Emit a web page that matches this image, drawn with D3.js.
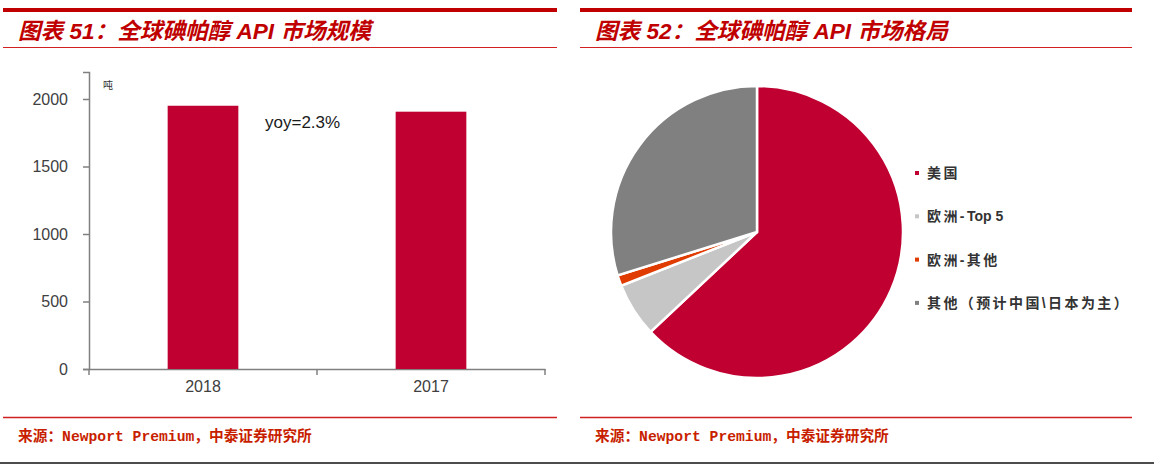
<!doctype html>
<html>
<head>
<meta charset="utf-8">
<title></title>
<style>
body{ margin:0; background:#fff; }
svg{ display:block; }
</style>
</head>
<body>
<svg></svg>
<script src="https://cdn.jsdelivr.net/npm/d3@7/dist/d3.min.js"></script>
<script>
   var years = ['2018', '2017'];
   var tons = [1950, 1906];
   var yTicks = [0, 500, 1000, 1500, 2000];
   var regions = ['美国', '欧洲-Top 5', '欧洲-其他', '其他（预计中国\\日本为主）'];
   var shares = [63, 6, 1.2, 29.8];
   var colors = ['#bf0030', '#c6c6c6', '#e03b00', '#808080'];

   var width = 1154, height = 464;
   var red = '#c00000';
   var svg = d3.select('svg').attr('width', width).attr('height', height);

   // 标题 + 分隔线
   function header(x0, x1, title) {
       svg.append('line').attr('x1', x0).attr('x2', x1).attr('y1', 10).attr('y2', 10)
          .attr('stroke', red).attr('stroke-width', 4);
       svg.append('text').attr('x', x0 + 15).attr('y', 39)
          .attr('fill', red).style('font-size', '22.6px').style('font-weight', 'bold')
          .style('font-style', 'italic')
          .style('font-family', '"Liberation Sans","Noto Sans CJK SC",sans-serif')
          .text(title);
       svg.append('line').attr('x1', x0).attr('x2', x1).attr('y1', 47.5).attr('y2', 47.5)
          .attr('stroke', '#d02020').attr('stroke-width', 1.2);
       svg.append('line').attr('x1', x0).attr('x2', x1).attr('y1', 417.5).attr('y2', 417.5)
          .attr('stroke', '#d02020').attr('stroke-width', 1.5);
       svg.append('text').attr('x', x0 + 15).attr('y', 441)
          .attr('fill', '#c81e00').style('font-size', '14.7px').style('font-weight', 'bold')
          .style('font-family', '"Liberation Mono","Noto Sans CJK SC",monospace')
          .text('来源：Newport Premium，中泰证券研究所');
   }
   header(3, 557, '图表 51：全球碘帕醇 API 市场规模');
   header(580, 1132, '图表 52：全球碘帕醇 API 市场格局');

   svg.append('line').attr('x1', 0).attr('x2', width).attr('y1', 463).attr('y2', 463)
      .attr('stroke', '#111').attr('stroke-width', 1.5);

   // 柱状图
   var x = d3.scaleBand().domain(years).range([89, 545]).paddingInner(0.69).paddingOuter(0.345);
   var y = d3.scaleLinear().domain([0, 2200]).range([369, 72]);

   var gx = svg.append('g').attr('transform', 'translate(0,369)')
       .call(d3.axisBottom(x).tickSize(0).tickPadding(12));
   gx.select('.domain').attr('stroke', '#808080').attr('stroke-width', 1.5);
   gx.selectAll('text').attr('fill', '#404040').style('font-size', '16px')
     .style('font-family', '"Liberation Sans",Arial,sans-serif');
   // 分类分隔刻度
   svg.append('g').selectAll('line').data([89, 89 + x.step(), 545]).enter().append('line')
      .attr('x1', function (d) { return d; }).attr('x2', function (d) { return d; })
      .attr('y1', 369).attr('y2', 375).attr('stroke', '#808080').attr('stroke-width', 1.5);

   var gy = svg.append('g').attr('transform', 'translate(89,0)')
       .call(d3.axisLeft(y).tickValues(yTicks).tickFormat(d3.format('d')).tickSize(6).tickPadding(15));
   gy.select('.domain').attr('stroke', '#808080').attr('stroke-width', 1.5);
   gy.selectAll('line').attr('stroke', '#808080').attr('stroke-width', 1.5);
   gy.selectAll('text').attr('fill', '#404040').style('font-size', '16px')
     .style('font-family', '"Liberation Sans",Arial,sans-serif');

   svg.append('g').selectAll('rect').data(tons).enter().append('rect')
      .attr('x', function (d, i) { return x(years[i]); })
      .attr('y', function (d) { return y(d); })
      .attr('width', x.bandwidth())
      .attr('height', function (d) { return y(0) - y(d); })
      .attr('fill', colors[0]);

   svg.append('text').attr('x', 103).attr('y', 89).attr('fill', '#333')
      .style('font-size', '10px').style('font-family', '"Noto Sans CJK SC",sans-serif').text('吨');
   svg.append('text').attr('x', 265).attr('y', 128).attr('fill', '#1a1a1a')
      .style('font-size', '17px').style('font-family', '"Liberation Sans",Arial,sans-serif')
      .text('yoy=2.3%');

   // 饼图
   var pie = d3.pie().sort(null).value(function (d) { return d; });
   var arc = d3.arc().innerRadius(0).outerRadius(146);
   svg.append('g').attr('transform', 'translate(757,232)')
      .selectAll('path').data(pie(shares)).enter().append('path')
      .attr('d', arc)
      .attr('fill', function (d, i) { return colors[i]; })
      .attr('stroke', '#fff').attr('stroke-width', 2.5);

   var lg = svg.append('g').selectAll('g').data(regions).enter().append('g')
      .attr('transform', function (d, i) { return 'translate(915,' + (173 + i * 43.3) + ')'; });
   lg.append('rect').attr('x', 0).attr('y', -2).attr('width', 4).attr('height', 4)
     .attr('fill', function (d, i) { return colors[i]; });
   // 中文字距宽，英文部分不加字距
   lg.append('text').attr('x', 12).attr('y', 5).attr('fill', '#333')
     .style('font-size', '14px').style('font-weight', 'bold')
     .style('font-family', '"Liberation Sans","Noto Sans CJK SC",sans-serif')
     .each(function (d) {
         var t = d3.select(this);
         d.split(/([A-Za-z0-9 ]+)/).filter(function (s) { return s.length; }).forEach(function (s) {
             t.append('tspan').style('letter-spacing', /[A-Za-z0-9]/.test(s) ? '0px' : '2.4px').text(s);
         });
     });
</script>
</body>
</html>
